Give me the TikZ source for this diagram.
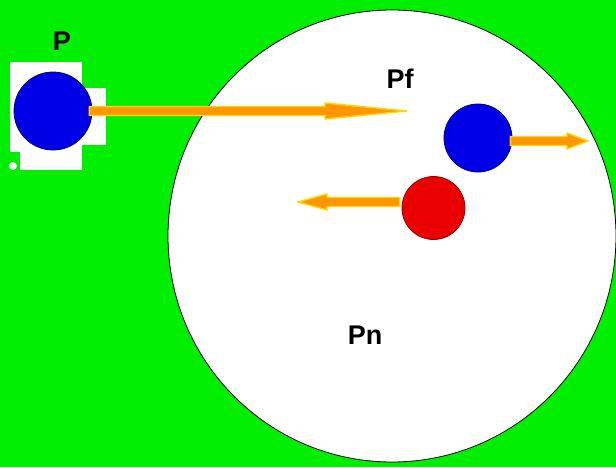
\documentclass[tikz,border=0pt]{standalone}
\usepackage{fontspec}
\setmainfont{Liberation Sans}
\usetikzlibrary{calc,shapes.geometric}
\definecolor{bg}{RGB}{0,238,0}
\definecolor{ballblue}{RGB}{0,0,230}
\definecolor{ballblueedge}{RGB}{0,0,120}
\definecolor{ballred}{RGB}{235,0,0}
\definecolor{balrededge}{RGB}{150,0,0}
\definecolor{arrfill}{RGB}{255,150,0}
\definecolor{arredge}{RGB}{255,215,0}
\tikzset{
  lbl/.style={font=\fontsize{27}{27}\selectfont\bfseries, inner sep=0pt},
  fatarr/.style={fill=arrfill, draw=arredge, line width=1.4pt, line join=miter},
  blueball/.style={circle, fill=ballblue, draw=ballblueedge, line width=0.8pt, inner sep=0pt},
  redball/.style={circle, fill=ballred, draw=balrededge, line width=0.8pt, inner sep=0pt},
}
\newcommand\fatarrow[3]{%
  \draw[fatarr] ($(#1)+(0,-4.5)$) -- ($(#2)+({-1*(#3)},-4.5)$) -- ($(#2)+({-1*(#3)},-8)$)
    -- (#2) -- ($(#2)+({-1*(#3)},8)$) -- ($(#2)+({-1*(#3)},4.5)$) -- ($(#1)+(0,4.5)$) -- cycle;}
\begin{document}
\begin{tikzpicture}[x=1pt,y=-1pt]
\useasboundingbox (0,0) rectangle (616,467);
\clip (0,0) rectangle (616,467);
\fill[bg] (0,0) rectangle (616,467);
% big cell
\node[ellipse, draw=black, line width=0.8pt, fill=white, minimum width=448pt, minimum height=452pt, inner sep=0pt] (cell) at (392,236) {};
% white patch behind P
\fill[white] (10,62) rectangle (82,152);
\fill[white] (20,140) rectangle (82,170);
\fill[white] (80,88) rectangle (106,145);
\fill[white] (13,166) circle (4);
% balls
\node[blueball, minimum size=78pt] (b1) at (53,111) {};
\node[blueball, minimum size=68pt] (b2) at (478,138) {};
\node[redball, minimum size=63pt] (r1) at (433.5,208) {};
% labels
\node[lbl] (lP) at (62,41) {P};
\node[lbl] (lPf) at (400,79) {Pf};
\node[lbl] (lPn) at (365,335) {Pn};
% arrow end points
\coordinate (s1) at ($(b1.east)+(-3,0)$);
\coordinate (t1) at (407,111);
\coordinate (s2) at ($(b2.east)+(-2,3)$);
\coordinate (t2) at (588,141);
\coordinate (s3) at ($(r1.west)+(-2,-6)$);
\coordinate (t3) at (298,202);
\fatarrow{s1}{t1}{82}
\fatarrow{s2}{t2}{21}
\fatarrow{s3}{t3}{-29}
\end{tikzpicture}
\end{document}
